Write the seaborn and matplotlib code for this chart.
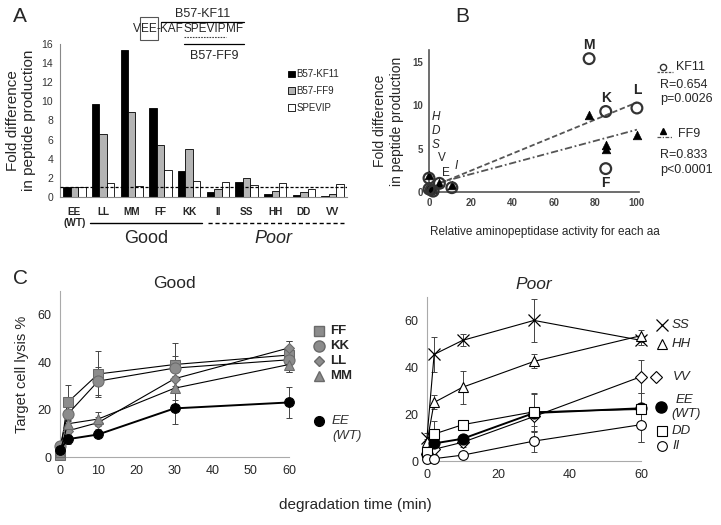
import numpy as np
import pandas as pd
import matplotlib
matplotlib.use("Agg")
import matplotlib.pyplot as plt
from matplotlib.lines import Line2D
from matplotlib.patches import Rectangle
import seaborn as sns

# ---------------- data ----------------
# panel A
mutants = ['EE\n(WT)', 'LL', 'MM', 'FF', 'KK', 'II', 'SS', 'HH', 'DD', 'VV']
kf11 = [1.0, 9.7, 15.4, 9.3, 2.7, 0.5, 1.6, 0.35, 0.25, 0.1]
ff9 = [1.0, 6.6, 8.9, 5.4, 5.0, 0.8, 2.0, 0.65, 0.55, 0.3]
spevip = [1.0, 1.5, 1.2, 2.8, 1.7, 1.6, 1.3, 1.45, 0.85, 1.4]

# panel B
aa = ['L', 'M', 'K', 'F', 'E', 'I', 'S', 'H', 'D', 'V']
activity = [100, 77, 85, 85, 5, 11, 0, 0, 1, 2]
kf11_b = [9.7, 15.4, 9.3, 2.7, 1.0, 0.5, 1.6, 0.35, 0.25, 0.1]
ff9_b = [6.6, 8.9, 5.0, 5.4, 1.0, 0.8, 2.0, 0.65, 0.55, 0.3]

# panel C
time = [0, 2, 10, 30, 60]
good = {
    'FF': ([1, 23, 35, 39, 43], [0, 7.5, 9.5, 9, 6]),
    'KK': ([4.5, 18, 32, 37.5, 41], [0, 3, 6, 5, 5]),
    'LL': ([3, 11, 14.5, 33, 46], [0, 2, 2.5, 4, 3]),
    'MM': ([2, 14, 16, 29, 39], [0, 2.5, 3, 5, 3]),
    'EE': ([3, 7.5, 9.5, 20.5, 23], [0, 2, 1, 6.5, 6.5]),
}
poor = {
    'SS': ([10, 45.5, 51.5, 60, 51.5], [2, 7.5, 2.5, 9, 2]),
    'HH': ([8, 25, 31.5, 42.5, 53.5], [1.5, 3, 7, 3, 2.5]),
    'VV': ([3, 5, 8, 19, 36], [1, 2, 2, 4, 7]),
    'EE': ([3, 7.5, 9.5, 20.5, 22.5], [1, 2, 1.5, 8, 6.5]),
    'DD': ([4, 11.5, 15.5, 21, 22], [1.5, 5.5, 2, 8, 14]),
    'II': ([1, 1, 2.5, 8.5, 15.5], [0.5, 0.5, 0.5, 4.5, 7.5]),
}

sns.set_style("white")
plt.rcParams['font.family'] = ['Liberation Sans', 'DejaVu Sans']

W, H = 721, 525
fig = plt.figure(figsize=(W / 100, H / 100), dpi=100)
renderer = fig.canvas.get_renderer()


def box(l, t, r, b):
    return [l / W, 1 - b / H, (r - l) / W, (b - t) / H]


def fx(x):
    return x / W


def fy(y):
    return 1 - y / H


def fline(xs, ys, **kw):
    fig.add_artist(Line2D([fx(x) for x in xs], [fy(y) for y in ys],
                          transform=fig.transFigure, **kw))


grey = '#888888'

# ---------------- panel A ----------------
axA = fig.add_axes(box(60, 44, 347, 197))
dfA = pd.DataFrame({
    'mut': mutants * 3,
    'fold': kf11 + ff9 + spevip,
    'pep': ['B57-KF11'] * 10 + ['B57-FF9'] * 10 + ['SPEVIP'] * 10,
})
sns.barplot(data=dfA, x='mut', y='fold', hue='pep',
            palette=['black', '#b4b4b4', 'white'], edgecolor='black',
            linewidth=0.6, width=0.78, ax=axA)
axA.set_ylim(0, 16)
axA.set_yticks(range(0, 17, 2))
axA.set_xlim(-0.5, 9.5)
axA.axhline(1.0, color='black', ls=(0, (2.5, 1.5)), lw=0.9, zorder=5)
axA.set_xlabel('')
axA.set_ylabel('Fold difference\nin peptide production', fontsize=11, labelpad=4)
for s in ['top', 'right']:
    axA.spines[s].set_visible(False)
for s in ['left', 'bottom']:
    axA.spines[s].set_color(grey)
axA.set_xticks(np.arange(-0.5, 10, 1), minor=True)
axA.tick_params(axis='x', which='major', length=0, pad=7, labelsize=7.2)
axA.tick_params(axis='x', which='minor', length=3, color=grey, direction='out')
axA.tick_params(axis='y', length=3, color=grey, labelsize=7.5, labelcolor='#333333', pad=2)
for t in axA.get_xticklabels():
    t.set_fontweight('bold')
axA.legend(loc='upper left', bbox_to_anchor=(0.78, 0.86), frameon=False,
           fontsize=7, handlelength=0.7, handleheight=0.7, handletextpad=0.2,
           labelspacing=0.7, borderaxespad=0)
trA = axA.get_xaxis_transform()
axA.plot([0.55, 4.45], [-0.17, -0.17], color='black', lw=1, transform=trA, clip_on=False)
axA.plot([4.65, 9.4], [-0.17, -0.17], color='black', lw=1, ls=(0, (3, 2)),
         transform=trA, clip_on=False)
axA.text(2.5, -0.27, 'Good', transform=trA, ha='center', va='center', fontsize=13)
axA.text(6.95, -0.27, 'Poor', transform=trA, ha='center', va='center', fontsize=13,
         style='italic')

# sequence annotation, written piece by piece so the marks can follow the letters
fig.text(fx(13), fy(16), 'A', fontsize=15, ha='left', va='center')
seq_x = 133
ext = {}
for piece in ['V', 'EE', '-KAF', 'SPEVIP', 'MF']:
    t = fig.text(fx(seq_x), fy(29), piece, fontsize=8.5, ha='left', va='center')
    bb = t.get_window_extent(renderer)
    ext[piece] = (bb.x0, bb.x1)
    seq_x = bb.x1
fig.add_artist(Rectangle((fx(ext['EE'][0] - 1), fy(40)), fx(ext['EE'][1] - ext['EE'][0] + 2),
                         23 / H, fill=False, edgecolor='#555555', lw=0.8,
                         transform=fig.transFigure))
kf_start = ext['-KAF'][0] + 4
end = ext['MF'][1] + 1
fline([kf_start, end], [22, 22], color='black', lw=0.9)
fig.text(fx((kf_start + end) / 2), fy(14), 'B57-KF11', fontsize=9, ha='center', va='center')
fline([ext['SPEVIP'][0], end], [44, 44], color='black', lw=0.9)
fline([ext['SPEVIP'][0], ext['SPEVIP'][1]], [37, 37], color='#444444', lw=0.8,
      ls=(0, (1.5, 1)))
fig.text(fx((ext['SPEVIP'][0] + end) / 2), fy(56), 'B57-FF9', fontsize=9,
         ha='center', va='center')

# ---------------- panel B ----------------
axB = fig.add_axes(box(429, 50, 639, 192))
dfB = pd.DataFrame({'aa': aa, 'act': activity, 'kf11': kf11_b, 'ff9': ff9_b})
for col, ls in [('kf11', (0, (3, 1.5))), ('ff9', (0, (4, 1.5, 1, 1.5)))]:
    slope, icpt = np.polyfit(dfB['act'], dfB[col], 1)
    xs = np.array([dfB['act'].min() + 5, dfB['act'].max()])
    sns.lineplot(x=xs, y=slope * xs + icpt, ax=axB, color='#555555', lw=1.3,
                 linestyle=ls, zorder=2)
sns.scatterplot(data=dfB, x='act', y='ff9', marker='^', s=38, color='black',
                edgecolor='black', ax=axB, zorder=3, clip_on=False)
sns.scatterplot(data=dfB, x='act', y='kf11', marker='o', s=60, facecolor='none',
                edgecolor='#333333', linewidth=1.6, ax=axB, zorder=4, clip_on=False)
axB.set_xlim(0, 101)
axB.set_ylim(0, 16.4)
axB.set_xticks(range(0, 101, 20))
axB.set_yticks([0, 5, 10, 15])
axB.set_xlabel('')
axB.set_ylabel('Fold difference\nin peptide production', fontsize=10, labelpad=6)
for s in ['top', 'right']:
    axB.spines[s].set_visible(False)
for s in ['left', 'bottom']:
    axB.spines[s].set_color('#555555')
    axB.spines[s].set_linewidth(1.2)
axB.tick_params(length=2.5, color='#555555', labelsize=7, labelcolor='#444444', pad=2)
for t in axB.get_xticklabels() + axB.get_yticklabels():
    t.set_fontweight('bold')
for lab, x, y, kw in [('M', 77, 17.0, dict(fontweight='bold', fontsize=10)),
                      ('L', 100, 11.8, dict(fontweight='bold', fontsize=10)),
                      ('K', 85, 10.8, dict(fontweight='bold', fontsize=10)),
                      ('F', 85, 1.0, dict(fontweight='bold', fontsize=10)),
                      ('H', 3.4, 8.7, dict(style='italic', fontsize=8.5)),
                      ('D', 3.4, 7.0, dict(style='italic', fontsize=8.5)),
                      ('S', 3.4, 5.4, dict(style='italic', fontsize=8.5)),
                      ('V', 6.0, 3.9, dict(fontsize=8.5)),
                      ('E', 8.0, 2.2, dict(fontsize=8.5)),
                      ('I', 13.0, 3.0, dict(style='italic', fontsize=8.5))]:
    axB.text(x, y, lab, ha='center', va='center', clip_on=False, **kw)
fig.text(fx(455), fy(16), 'B', fontsize=15, ha='left', va='center')
fig.text(fx(545), fy(232), 'Relative aminopeptidase activity for each aa',
         fontsize=8.5, ha='center', va='center')
# legend for B
fig.add_artist(Line2D([fx(663)], [fy(67)], marker='o', ms=4.5, mfc='none', mec='#333333',
                      transform=fig.transFigure))
fline([657, 673], [72, 72], color='#555555', lw=0.9, ls=(0, (2, 1)))
fig.text(fx(676), fy(67), 'KF11', fontsize=9, ha='left', va='center')
fig.text(fx(660), fy(85), 'R=0.654', fontsize=9, ha='left', va='center')
fig.text(fx(660), fy(99), 'p=0.0026', fontsize=9, ha='left', va='center')
fig.add_artist(Line2D([fx(663)], [fy(131)], marker='^', ms=5, mfc='black', mec='black',
                      transform=fig.transFigure))
fline([657, 673], [137, 137], color='#555555', lw=0.9, ls=(0, (3, 1.2, 1, 1.2)))
fig.text(fx(678), fy(134), 'FF9', fontsize=9, ha='left', va='center')
fig.text(fx(660), fy(155), 'R=0.833', fontsize=9, ha='left', va='center')
fig.text(fx(660), fy(170), 'p<0.0001', fontsize=9, ha='left', va='center')

# ---------------- panel C ----------------
styles_good = {
    'FF': dict(marker='s', ms=6.5, mfc='#8c8c8c', mec='#6a6a6a'),
    'KK': dict(marker='o', ms=8, mfc='#8c8c8c', mec='#6a6a6a'),
    'LL': dict(marker='D', ms=5, mfc='#8c8c8c', mec='#6a6a6a'),
    'MM': dict(marker='^', ms=6.5, mfc='#8c8c8c', mec='#6a6a6a'),
    'EE': dict(marker='o', ms=7, mfc='black', mec='black'),
}
styles_poor = {
    'SS': dict(marker='x', ms=8, mfc='none', mec='black', mew=0.9),
    'HH': dict(marker='^', ms=7, mfc='white', mec='black', mew=0.8),
    'VV': dict(marker='D', ms=6, mfc='white', mec='black', mew=0.8),
    'EE': dict(marker='o', ms=8, mfc='black', mec='black'),
    'DD': dict(marker='s', ms=7, mfc='white', mec='black', mew=0.8),
    'II': dict(marker='o', ms=7, mfc='white', mec='black', mew=0.8),
}


def draw_lines(ax, series, styles):
    for name, (vals, err) in series.items():
        eb = ax.errorbar(time, vals, yerr=err, fmt='none', ecolor='#444444',
                         elinewidth=0.7, capsize=2, capthick=0.7, zorder=2)
        for part in eb.lines[1] + eb.lines[2]:
            part.set_clip_on(False)
        sns.lineplot(x=time, y=vals, ax=ax, color='black',
                     lw=1.4 if name == 'EE' else 0.8, clip_on=False, zorder=3,
                     **styles[name])


def style_c(ax, xt):
    ax.set_ylim(0, 70)
    ax.set_xlim(0, 60)
    ax.set_yticks([0, 20, 40, 60])
    ax.set_xticks(xt)
    for s in ['top', 'right']:
        ax.spines[s].set_visible(False)
    for s in ['left', 'bottom']:
        ax.spines[s].set_color('#aaaaaa')
    ax.tick_params(axis='x', direction='in', length=3, color='#aaaaaa', labelsize=9, pad=6)
    ax.tick_params(axis='y', length=0, labelsize=9, pad=6)


axC1 = fig.add_axes(box(60, 291, 289, 457))
draw_lines(axC1, good, styles_good)
style_c(axC1, range(0, 61, 10))
axC1.set_ylabel('Target cell lysis %', fontsize=10.5, labelpad=6)
axC1.set_title('Good', fontsize=12.5, pad=2)

axC2 = fig.add_axes(box(427, 297, 641, 461))
draw_lines(axC2, poor, styles_poor)
style_c(axC2, [0, 20, 40, 60])
axC2.set_title('Poor', fontsize=12.5, style='italic', pad=6)

fig.text(fx(13), fy(279), 'C', fontsize=15, ha='left', va='center')
fig.text(fx(355), fy(505), 'degradation time (min)', fontsize=11, ha='center', va='center')


def key(ax, x, y, st, label, tx, ty, **kw):
    ax.plot([x], [y], transform=ax.transAxes, clip_on=False, ls='none', **st)
    ax.text(tx, ty, label, transform=ax.transAxes, va='center', ha='left', **kw)


for name, y in [('FF', 0.759), ('KK', 0.669), ('LL', 0.578), ('MM', 0.488)]:
    key(axC1, 1.13, y, styles_good[name], name, 1.18, y, fontsize=9.5, fontweight='bold')
key(axC1, 1.13, 0.217, styles_good['EE'], 'EE', 1.185, 0.217, fontsize=9.5, style='italic',
    color='#333333')
axC1.text(1.19, 0.125, '(WT)', transform=axC1.transAxes, va='center', ha='left',
          fontsize=9.5, style='italic', color='#333333')

for name, y in [('SS', 0.829), ('HH', 0.713), ('DD', 0.183), ('II', 0.091)]:
    key(axC2, 1.10, y, styles_poor[name], name, 1.145, y, fontsize=9.5, style='italic')
key(axC2, 1.07, 0.512, styles_poor['VV'], 'VV', 1.15, 0.512, fontsize=9.5, style='italic')
key(axC2, 1.095, 0.329, styles_poor['EE'], 'EE', 1.16, 0.37, fontsize=9.5, style='italic')
axC2.text(1.14, 0.285, '(WT)', transform=axC2.transAxes, va='center', ha='left',
          fontsize=9.5, style='italic')

fig.savefig('out.png', dpi=100)
